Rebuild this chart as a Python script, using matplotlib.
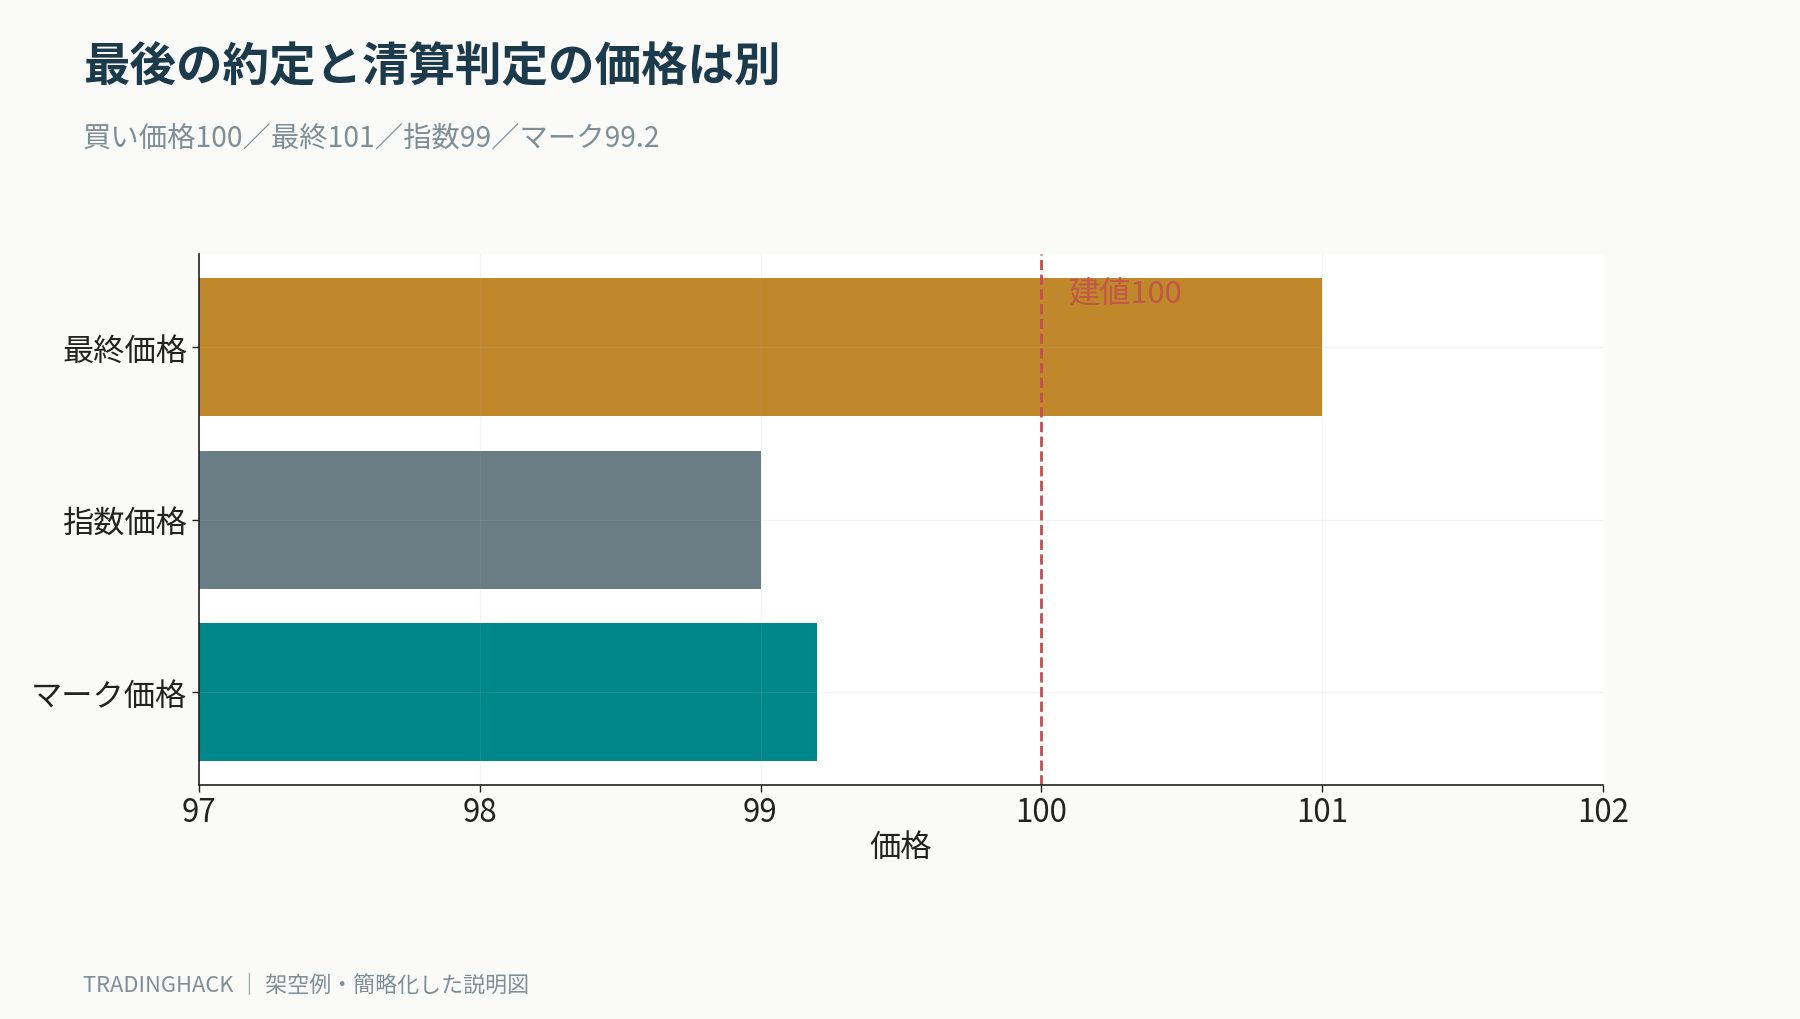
import matplotlib
matplotlib.use("Agg")
import matplotlib.pyplot as plt
import matplotlib.transforms as mtransforms

plt.rcParams['font.family'] = ['Noto Sans CJK JP', 'DejaVu Sans']

# データ
labels = ['最終価格', '指数価格', 'マーク価格']
prices = [101, 99, 99.2]
colors = ['#C0882A', '#6B7D84', '#00878A']
entry_price = 100
xticks = [97, 98, 99, 100, 101, 102]

fig = plt.figure(figsize=(18, 10.2), dpi=100, facecolor='#FAFAF8')
ax = fig.add_axes([0.1105, 0.229, 0.78, 0.521])
ax.set_facecolor('white')

ax.barh(labels, prices, color=colors, height=0.8)
ax.invert_yaxis()
ax.set_xlim(97, 102)
ax.set_xticks(xticks)

# 建値ライン
ax.axvline(entry_price, color='#C0504D', linestyle='--', linewidth=2)
trans = mtransforms.blended_transform_factory(ax.transData, ax.transAxes)
ax.text(entry_price + 0.1, 0.926, f'建値{entry_price}', transform=trans,
        color='#C0504D', fontsize=22.4, va='center', ha='left', alpha=0.85)

ax.grid(True, color='#B0B0B0', linewidth=0.9, alpha=0.15)
for s in ['top', 'right']:
    ax.spines[s].set_visible(False)
for s in ['left', 'bottom']:
    ax.spines[s].set_color('#222222')
    ax.spines[s].set_linewidth(1.2)

ax.tick_params(axis='both', labelsize=22.5, colors='#222222', length=5, width=1)
ax.tick_params(axis='y', pad=3.5)
ax.tick_params(axis='x', pad=2.5)
ax.set_xlabel('価格', fontsize=22.5, color='#222222', labelpad=2)

fig.text(0.046, 0.934, '最後の約定と清算判定の価格は別', fontsize=33.5,
         fontweight='bold', color='#1B3A4B', va='center', ha='left')
fig.text(0.046, 0.864, '買い価格100／最終101／指数99／マーク99.2', fontsize=20.4,
         color='#7F8E96', va='center', ha='left')
fig.text(0.046, 0.034, 'TRADINGHACK ｜ 架空例・簡略化した説明図', fontsize=15.8,
         color='#7F8E96', va='center', ha='left')

fig.savefig('out.png', facecolor=fig.get_facecolor())
